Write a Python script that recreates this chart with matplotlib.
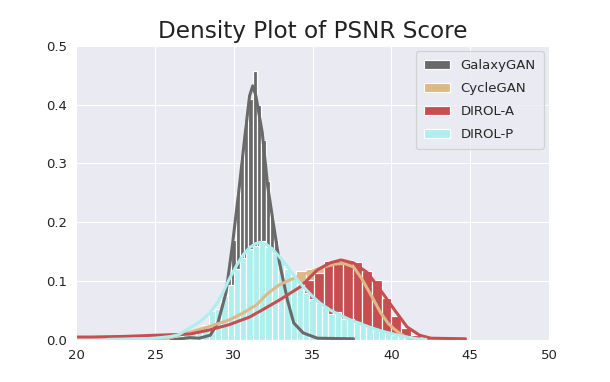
import matplotlib
matplotlib.use("Agg")
import matplotlib.pyplot as plt
import seaborn as sns
import numpy as np

sns.set_style("darkgrid")
plt.rcParams['font.family'] = ['DejaVu Sans']

labels = ['GalaxyGAN', 'CycleGAN', 'DIROL-A', 'DIROL-P']
colors = ['dimgray', 'burlywood', '#c64e50', 'paleturquoise']

# histogram bins: first edge, bin width, bar heights (density)
galaxy_start, galaxy_width = 29.04, 0.27
galaxy_hist = [0.03, 0.07, 0.11, 0.17, 0.25, 0.31, 0.37, 0.41, 0.457, 0.40,
               0.34, 0.27, 0.21, 0.17, 0.12, 0.09, 0.06, 0.03, 0.015, 0.006]

cycle_start, cycle_width = 26.75, 0.6
cycle_hist = [0.01, 0.015, 0.02, 0.026, 0.03, 0.038, 0.045, 0.055, 0.07, 0.085,
              0.095, 0.1, 0.117, 0.12, 0.122, 0.128, 0.13, 0.128, 0.115, 0.09,
              0.06, 0.035, 0.018, 0.006, 0.002]

dirola_start, dirola_width = 26.475, 0.615
dirola_hist = [0.01, 0.013, 0.017, 0.02, 0.024, 0.028, 0.033, 0.038, 0.045, 0.052,
               0.062, 0.075, 0.09, 0.102, 0.114, 0.134, 0.135, 0.136, 0.133, 0.117,
               0.102, 0.071, 0.040, 0.020, 0.009, 0.003]

dirolp_start, dirolp_width = 26.0, 0.4
dirolp_hist = [0.005, 0.006, 0.008, 0.012, 0.017, 0.026, 0.05, 0.053, 0.074, 0.094,
               0.12, 0.14, 0.155, 0.16, 0.168, 0.158, 0.148, 0.135, 0.12, 0.108,
               0.095, 0.08, 0.07, 0.063, 0.056, 0.045, 0.047, 0.036, 0.035, 0.03,
               0.026, 0.022, 0.018, 0.015, 0.012, 0.009, 0.006, 0.004, 0.003, 0.002]

# density curves
galaxy_kde_x = [26.0, 27.2, 27.8, 28.5, 29.0, 29.5, 29.9, 30.35, 30.7, 31.0, 31.2,
                31.4, 31.8, 32.15, 32.6, 32.9, 33.4, 33.8, 34.4, 35.3, 37.6]
galaxy_kde_y = [0.0, 0.004, 0.003, 0.008, 0.03, 0.08, 0.159, 0.261, 0.346, 0.415, 0.432,
                0.415, 0.353, 0.261, 0.182, 0.131, 0.068, 0.029, 0.012, 0.003, 0.002]

cycle_kde_x = [25.0, 26.0, 27.2, 28.45, 29.7, 30.6, 31.45, 32.1, 32.9, 33.8, 34.65,
               35.7, 36.4, 37.0, 37.6, 38.1, 38.5, 38.9, 39.3, 39.8, 40.2, 40.6,
               41.0, 41.5]
cycle_kde_y = [0.001, 0.004, 0.013, 0.023, 0.034, 0.046, 0.06, 0.078, 0.094, 0.105, 0.114,
               0.124, 0.129, 0.13, 0.124, 0.105, 0.086, 0.067, 0.047, 0.028, 0.018, 0.01,
               0.004, 0.001]

dirola_kde_x = [19.0, 21.0, 23.0, 25.0, 27.2, 28.45, 29.7, 31.0, 31.8, 32.9, 34.2,
                35.3, 36.1, 36.8, 37.6, 38.5, 39.3, 40.2, 41.0, 41.8, 42.5, 44.7]
dirola_kde_y = [0.005, 0.005, 0.006, 0.008, 0.01, 0.017, 0.026, 0.039, 0.051, 0.068, 0.09,
                0.119, 0.131, 0.136, 0.131, 0.114, 0.085, 0.051, 0.022, 0.008, 0.003, 0.002]

dirolp_kde_x = [22.0, 24.0, 25.0, 26.0, 26.5, 27.17, 27.8, 28.45, 29.0, 29.3, 29.7,
                30.2, 30.6, 31.0, 31.4, 31.7, 32.1, 32.5, 33.0, 33.4, 33.8, 34.2,
                34.6, 35.0, 35.5, 36.1, 36.7, 37.4, 38.0, 38.7, 39.4, 40.0, 40.6,
                41.0, 41.6, 42.2]
dirolp_kde_y = [0.001, 0.002, 0.003, 0.006, 0.009, 0.02, 0.03, 0.045, 0.065, 0.08, 0.103,
                0.128, 0.145, 0.157, 0.164, 0.166, 0.162, 0.153, 0.138, 0.125, 0.11, 0.097,
                0.085, 0.074, 0.062, 0.051, 0.043, 0.034, 0.028, 0.021, 0.015, 0.011, 0.007,
                0.005, 0.002, 0.001]

hists = [(galaxy_start, galaxy_width, galaxy_hist),
         (cycle_start, cycle_width, cycle_hist),
         (dirola_start, dirola_width, dirola_hist),
         (dirolp_start, dirolp_width, dirolp_hist)]
kdes = [(galaxy_kde_x, galaxy_kde_y), (cycle_kde_x, cycle_kde_y),
        (dirola_kde_x, dirola_kde_y), (dirolp_kde_x, dirolp_kde_y)]

fig = plt.figure(figsize=(6.4, 382 / 95.3125))
ax = fig.add_subplot(111)

# bars first, then all the curves on top
for (start, width, h), c, lab in zip(hists, colors, labels):
    left = start + width * np.arange(len(h))
    ax.bar(left, h, width=width, align='edge', color=c, edgecolor='white',
           linewidth=0.9, label=lab)
for (kx, ky), c in zip(kdes, colors):
    ax.plot(kx, ky, color=c, lw=2.3)

ax.set_xlim(20, 50)
ax.set_ylim(0, 0.5)
ax.set_xticks([20, 25, 30, 35, 40, 45, 50])
ax.set_yticks([0.0, 0.1, 0.2, 0.3, 0.4, 0.5])
ax.tick_params(labelcolor='#222222')
ax.set_title('Density Plot of PSNR Score', fontsize=17.5, color='#222222')
ax.legend(loc='upper right', labelspacing=0.75, borderpad=0.6,
          borderaxespad=0.4)

fig.savefig('out.png', dpi=95.3125)
